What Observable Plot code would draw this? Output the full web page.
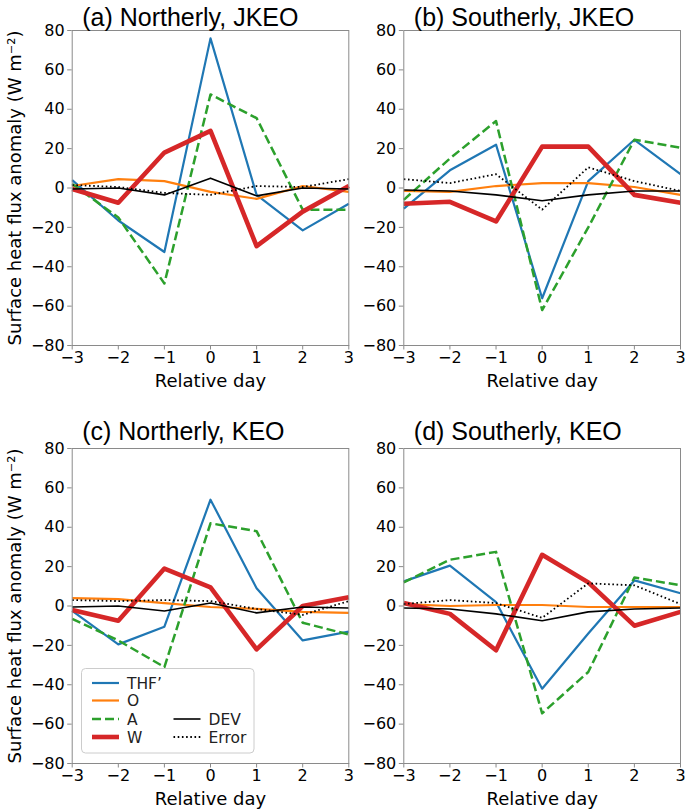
<!DOCTYPE html>
<html>
<head>
<meta charset="utf-8">
<script src="https://cdn.jsdelivr.net/npm/d3@7"></script>
<script src="https://cdn.jsdelivr.net/npm/@observablehq/plot@0.6"></script>
<style>
  html, body { margin: 0; padding: 0; background: #fff; }
  #wrap { position: relative; width: 685px; height: 810px; overflow: hidden; font-family: "DejaVu Sans", sans-serif; }
  .panel { position: absolute; }
  .panel svg { overflow: visible; }
  #legend { position: absolute; }
</style>
</head>
<body>
<div id="wrap"></div>
<script>
// ---------- data ----------
const days = [-3, -2, -1, 0, 1, 2, 3];
const yTicks = [-80, -60, -40, -20, 0, 20, 40, 60, 80];
const seriesNames = ["THF’", "O", "A", "W", "DEV", "Error"];
const panelTitles = ["(a) Northerly, JKEO", "(b) Southerly, JKEO", "(c) Northerly, KEO", "(d) Southerly, KEO"];
const yLabel = "Surface heat flux anomaly (W m⁻²)";
const xLabel = "Relative day";

// (a) Northerly, JKEO
const aTHF   = [4, -16.5, -32.5, 76, -3.5, -21.5, -8];
const aO     = [1, 4.5, 3.5, -2, -5.5, 1, -2];
const aA     = [2, -15, -48.5, 47.5, 35.5, -11, -11];
const aW     = [-0.5, -7.5, 18, 29, -29.5, -12, 1];
const aDEV   = [-0.5, 0, -3.5, 5, -4, 0, -0.5];
const aError = [1.5, 0.5, -2.5, -3.5, 1, 0.5, 4.5];

// (b) Southerly, JKEO
const bTHF   = [-10.5, 9, 22, -56, 3.5, 24.5, 7];
const bO     = [-1.5, -2, 1, 2.5, 2.5, 0.5, -3.5];
const bA     = [-6, 15, 34, -62, -20, 24.5, 20.5];
const bW     = [-8, -7, -17, 21, 21, -3.5, -7.5];
const bDEV   = [-1, -1.5, -3.5, -6.5, -3.5, -1.5, -1.5];
const bError = [4.5, 2.5, 7, -11, 10.5, 3.5, -1.5];

// (c) Northerly, KEO
const cTHF   = [-2.5, -19.5, -10.5, 54, 9, -17.5, -13];
const cO     = [4, 3.5, 1.5, -0.5, -1.5, -3, -3.5];
const cA     = [-6.5, -17.5, -31, 42, 38, -8.5, -14.5];
const cW     = [-2, -7.5, 19, 9.5, -22, 0, 4.5];
const cDEV   = [-0.5, 0, -2.5, 1.5, -3.5, -0.5, -1];
const cError = [3, 2.5, 3, 2.5, -1.5, -4.5, 2.5];

// (d) Southerly, KEO
const dTHF   = [12.5, 20.5, 2, -42, -14, 13, 6.5];
const dO     = [1, 0, 0.5, 0.5, -0.5, -0.5, -0.5];
const dA     = [12, 23.5, 27.5, -54.5, -33.5, 14.5, 10.5];
const dW     = [1.5, -4, -22.5, 26, 12, -10, -3];
const dDEV   = [-1, -1.5, -4, -7.5, -3, -1.5, -1];
const dError = [1, 3, 1.5, -6, 11.5, 10.5, 1];

// ---------- styles ----------
const sColor = ["#1f77b4", "#ff7f0e", "#2ca02c", "#d62728", "#000000", "#000000"];
const sWidth = [2.2, 2.2, 2.5, 4.6, 1.6, 1.8];
const sDash  = [null, null, "9,4", null, null, "1.6,2.6"];
const spine = "#8a8a8a";
const fmt = d3.format("d");

const panelSeries = [
  [aTHF, aO, aA, aW, aDEV, aError],
  [bTHF, bO, bA, bW, bDEV, bError],
  [cTHF, cO, cA, cW, cDEV, cError],
  [dTHF, dO, dA, dW, dDEV, dError]
];

// layout of the four panels
const pos = [
  {left: 0,   top: 0,     ml: 71.7, mr: 3.7, titleDy: -5, ylab: true},
  {left: 332, top: 0,     ml: 71.3, mr: 4,   titleDy: -5, ylab: false},
  {left: 0,   top: 418.3, ml: 71.7, mr: 3.7, titleDy: -9, ylab: true},
  {left: 332, top: 418.3, ml: 71.3, mr: 4,   titleDy: -9, ylab: false}
];

const wrap = document.getElementById("wrap");

panelSeries.forEach((list, p) => {
  const L = pos[p];
  const marks = [];
  list.forEach((vals, s) => {
    const rows = days.map((d, i) => ({day: d, value: vals[i], series: seriesNames[s]}));
    const opt = {x: "day", y: "value", stroke: sColor[s], strokeWidth: sWidth[s],
                 strokeLinejoin: "round", strokeLinecap: "butt"};
    if (sDash[s]) opt.strokeDasharray = sDash[s];
    marks.push(Plot.line(rows, opt));
  });
  marks.push(Plot.frame({stroke: spine, strokeWidth: 1}));
  marks.push(Plot.axisY({ticks: yTicks, tickFormat: fmt, tickSize: 4.5, tickPadding: 3, stroke: spine, label: null, fontSize: 16}));
  marks.push(Plot.axisX({ticks: days, tickFormat: fmt, tickSize: 4.5, tickPadding: 1.5, stroke: spine, label: null, fontSize: 16}));
  marks.push(Plot.text([xLabel], {frameAnchor: "bottom", dy: 41.7, lineAnchor: "bottom", textAnchor: "middle", fontSize: 18, fill: "black"}));
  if (L.ylab) {
    marks.push(Plot.text([yLabel], {frameAnchor: "left", rotate: -90, dx: 14.5 - L.ml, lineAnchor: "middle",
      textAnchor: "middle", fontSize: 18, fill: "black"}));
  }
  marks.push(Plot.text([panelTitles[p]], {frameAnchor: "top-left", dx: 10, dy: L.titleDy, lineAnchor: "bottom",
    textAnchor: "start", fontSize: 25, fontFamily: "Liberation Sans, Arial, sans-serif", fill: "black"}));

  const chart = Plot.plot({
    width: 352, height: 410,
    marginLeft: L.ml, marginRight: L.mr, marginTop: 30, marginBottom: 65,
    x: {domain: [-3, 3]},
    y: {domain: [-80, 80]},
    style: {fontFamily: "DejaVu Sans, sans-serif", fontSize: "16px", background: "transparent", overflow: "visible", color: "black"},
    marks
  });
  const div = document.createElement("div");
  div.className = "panel";
  div.style.left = L.left + "px";
  div.style.top = L.top + "px";
  div.appendChild(chart);
  wrap.appendChild(div);
});

// ---------- legend (inside panel c) ----------
const lg = d3.select("#wrap").append("svg").attr("id", "legend")
  .attr("width", 174).attr("height", 86)
  .style("left", "80.5px").style("top", "668px");
lg.append("rect").attr("x", 0.5).attr("y", 0.5).attr("width", 172.5).attr("height", 84.5)
  .attr("rx", 4).attr("fill", "rgba(255,255,255,0.8)").attr("stroke", "#cccccc");
const legCol = [0, 0, 0, 0, 1, 1];
const legRow = [0, 1, 2, 3, 2, 3];
const rowY = [15, 32.5, 51, 69];
const colX = [11, 92.5];
seriesNames.forEach((name, s) => {
  const x0 = colX[legCol[s]], y0 = rowY[legRow[s]];
  const ln = lg.append("line").attr("x1", x0).attr("x2", x0 + 27).attr("y1", y0).attr("y2", y0)
    .attr("stroke", sColor[s]).attr("stroke-width", sWidth[s]);
  if (sDash[s]) ln.attr("stroke-dasharray", sDash[s]);
  lg.append("text").attr("x", x0 + 35).attr("y", y0).attr("dy", "0.36em")
    .attr("font-family", "DejaVu Sans, sans-serif").attr("font-size", 15.5).attr("fill", "#222")
    .text(name);
});
</script>
</body>
</html>
